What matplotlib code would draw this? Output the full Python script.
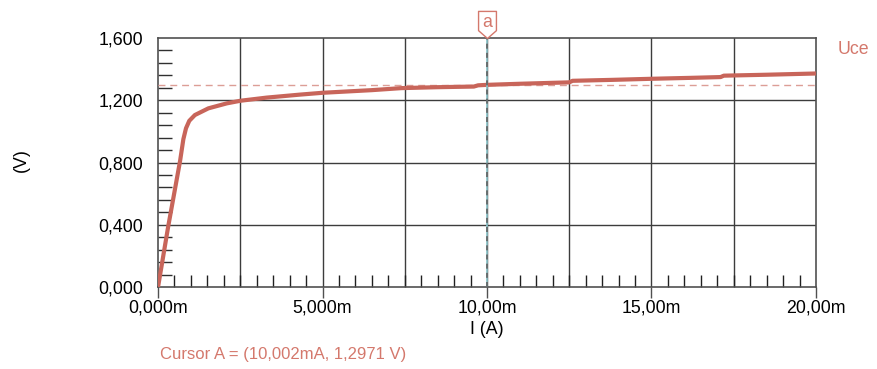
import matplotlib
matplotlib.use("Agg")
import matplotlib.pyplot as plt
import matplotlib.transforms as mtransforms
from matplotlib.path import Path
from matplotlib.ticker import MultipleLocator, FuncFormatter

plt.rcParams['font.family'] = ['Liberation Sans', 'DejaVu Sans']

# Uce over collector current (current in mA)
current_ma = [0.0, 0.31, 0.67, 0.77, 0.85, 0.95, 1.12, 1.53, 2.09, 2.51, 3.3, 4.3,
              5.0, 6.5, 7.4, 8.5, 9.6, 9.73, 10.0, 11.0, 12.5, 12.6, 13.8, 15.0,
              16.2, 17.1, 17.2, 18.5, 20.0]
uce_v = [0.0, 0.39, 0.81, 0.95, 1.02, 1.068, 1.105, 1.148, 1.18, 1.197, 1.217, 1.236,
         1.248, 1.265, 1.278, 1.284, 1.288, 1.296, 1.299, 1.306, 1.315, 1.325, 1.331, 1.338,
         1.344, 1.349, 1.358, 1.364, 1.372]

cursor_i = 10.002
cursor_u = 1.2971
trace_name = "Uce"
cursor_text = "Cursor A = (10,002mA, 1,2971 V)"

trace_col = '#c8655a'
text_col = '#d4786c'
hline_col = '#dc9e96'
grid_col = '#3c3c3c'
fs = 12.8

fig = plt.figure(figsize=(8.77, 3.69), dpi=100)
ax = fig.add_axes([0.1802, 0.2222, 0.7502, 0.6748])

ax.plot(current_ma, uce_v, color=trace_col, lw=3, solid_capstyle='butt',
        solid_joinstyle='round', zorder=4)

ax.set_xlim(0, 20)
ax.set_ylim(0, 1.6)

# grid every 2.5 mA and 0.4 V
for gx in [2.5 * k for k in range(1, 8)]:
    ax.axvline(gx, color=grid_col, lw=1, zorder=1)
for gy in [0.4 * k for k in range(1, 4)]:
    ax.axhline(gy, color=grid_col, lw=1, zorder=1)

for s in ax.spines.values():
    s.set_color('#505050')
    s.set_linewidth(1.2)

ax.xaxis.set_major_locator(MultipleLocator(5))
ax.xaxis.set_minor_locator(MultipleLocator(0.5))
ax.yaxis.set_major_locator(MultipleLocator(0.4))
ax.yaxis.set_minor_locator(MultipleLocator(0.08))

def fmt_x(v, pos):
    s = f"{v:.3f}" if v < 10 else f"{v:.2f}"
    return s.replace('.', ',') + 'm'

def fmt_y(v, pos):
    return f"{v:.3f}".replace('.', ',')

ax.xaxis.set_major_formatter(FuncFormatter(fmt_x))
ax.yaxis.set_major_formatter(FuncFormatter(fmt_y))

ax.tick_params(axis='x', which='major', direction='out', length=8, width=1,
               color='#505050', pad=1, labelsize=fs)
ax.tick_params(axis='x', which='minor', direction='in', length=9, width=1,
               color='#202020')
ax.tick_params(axis='y', which='major', length=0, pad=11, labelsize=fs)
ax.tick_params(axis='y', which='minor', direction='in', length=10, width=1,
               color='#303030')

ax.set_xlabel("I (A)", fontsize=fs, labelpad=3)
fig.text(0.024, 0.565, "(V)", rotation=90, fontsize=fs, ha='center', va='center')

# cursor lines
ax.axhline(cursor_u, color=hline_col, lw=1, dashes=(5, 3.5), zorder=3)
ax.axvline(cursor_i, color='#8cc6cc', lw=1.2, zorder=5)
ax.axvline(cursor_i, color='#606060', lw=1.2, dashes=(3, 2.5), zorder=5)

# cursor flag
flag = Path([(-0.33, 1.0), (0.33, 1.0), (0.33, 0.29), (0.0, 0.0), (-0.33, 0.29), (-0.33, 1.0)],
            [Path.MOVETO, Path.LINETO, Path.LINETO, Path.LINETO, Path.LINETO, Path.CLOSEPOLY])
trans = mtransforms.blended_transform_factory(ax.transData, ax.transAxes)
ax.plot([cursor_i], [1.0], marker=flag, ms=39, mfc='white', mec=text_col, mew=1,
        transform=trans, clip_on=False, zorder=6)
ax.annotate("a", xy=(cursor_i, 1.0), xycoords=trans, xytext=(0, 11),
            textcoords='offset points', ha='center', va='center',
            fontsize=fs, color=text_col, zorder=7)

fig.text(0.955, 0.867, trace_name, fontsize=fs, color=text_col, ha='left', va='center')
fig.text(0.1825, 0.038, cursor_text, fontsize=12, color=text_col, ha='left', va='center')

fig.savefig("out.png", dpi=100)
